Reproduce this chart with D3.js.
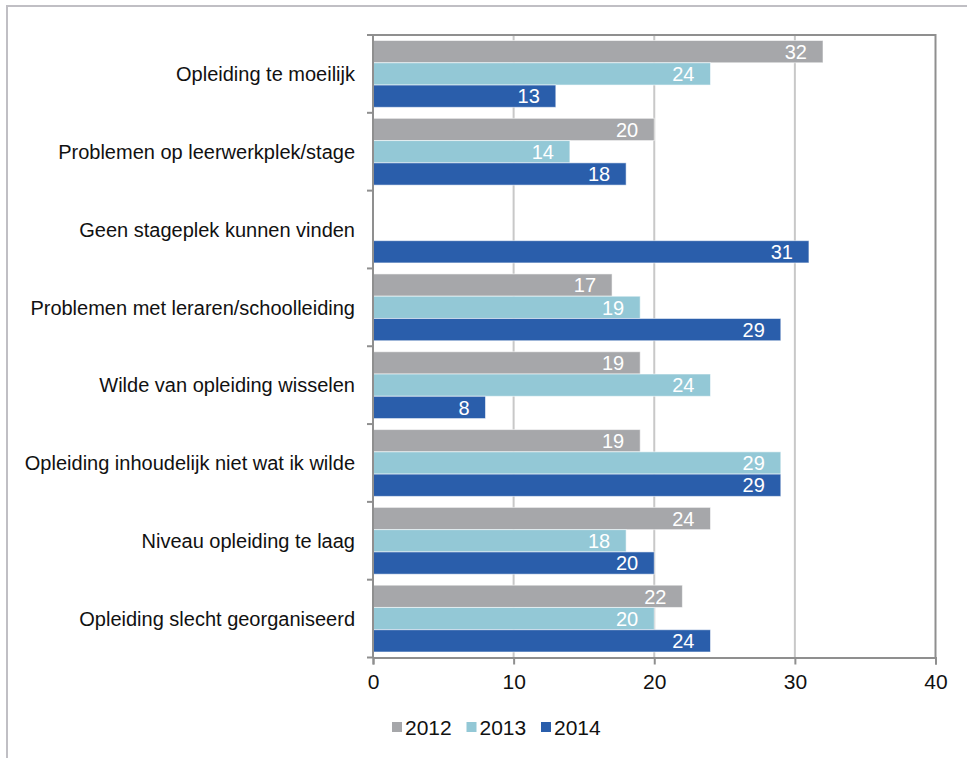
<!DOCTYPE html>
<html>
<head>
<meta charset="utf-8">
<script src="https://cdn.jsdelivr.net/npm/d3@7"></script>
<style>
    body { margin: 0; background: #fff; }
    svg text { font-family: "Liberation Sans", Arial, sans-serif; }
</style>
</head>
<body>
<div id="chart"></div>
<script>
const categories = [
    "Opleiding te moeilijk",
    "Problemen op leerwerkplek/stage",
    "Geen stageplek kunnen vinden",
    "Problemen met leraren/schoolleiding",
    "Wilde van opleiding wisselen",
    "Opleiding inhoudelijk niet wat ik wilde",
    "Niveau opleiding te laag",
    "Opleiding slecht georganiseerd"
];
const years = ["2012", "2013", "2014"];
const values2012 = [32, 20, null, 17, 19, 19, 24, 22];
const values2013 = [24, 14, null, 19, 24, 29, 18, 20];
const values2014 = [13, 18, 31, 29, 8, 29, 20, 24];
const xTicks = [0, 10, 20, 30, 40];
const colors = ["#a6a7aa", "#93c8d6", "#2a5eab"];

const width = 967, height = 758;
const plot = {left: 373, right: 935.5, top: 35, bottom: 657.5};

const svg = d3.select("#chart")
    .append("svg")
    .attr("width", width)
    .attr("height", height);

// outer chart frame
svg.append("rect")
    .attr("x", 7)
    .attr("y", 6)
    .attr("width", width + 20)
    .attr("height", height + 20)
    .attr("fill", "none")
    .attr("stroke", "#c0bfc4")
    .attr("stroke-width", 2);

const x = d3.scaleLinear()
    .domain([0, 40])
    .range([plot.left, plot.right]);

const y0 = d3.scaleBand()
    .domain(categories)
    .range([plot.top, plot.bottom]);

const y1 = d3.scaleBand()
    .domain(years)
    .range([5.5, y0.bandwidth() - 5.5]);

// gridlines
svg.append("g")
    .selectAll("line")
    .data(xTicks.filter(d => d > 0 && d < 40))
    .join("line")
    .attr("x1", d => x(d))
    .attr("x2", d => x(d))
    .attr("y1", plot.top)
    .attr("y2", plot.bottom)
    .attr("stroke", "#c8c8c8")
    .attr("stroke-width", 2);

// plot border (top + right)
svg.append("path")
    .attr("d", `M${plot.left - 6},${plot.top}H${plot.right}V${plot.bottom}`)
    .attr("fill", "none")
    .attr("stroke", "#8f8f8f")
    .attr("stroke-width", 2);

const series = [values2012, values2013, values2014];
const rows = [];
categories.forEach((c, i) => {
    years.forEach((yr, j) => {
        if (series[j][i] != null) {
            rows.push({cat: c, year: yr, value: series[j][i], color: colors[j]});
        }
    });
});

const bars = svg.append("g");
bars.selectAll("rect")
    .data(rows)
    .join("rect")
    .attr("x", x(0))
    .attr("y", d => y0(d.cat) + y1(d.year))
    .attr("width", d => x(d.value) - x(0))
    .attr("height", y1.bandwidth())
    .attr("fill", d => d.color)
    .attr("stroke", "rgba(255,255,255,0.55)")
    .attr("stroke-width", 1);

bars.selectAll("text")
    .data(rows)
    .join("text")
    .attr("x", d => x(d.value) - 16)
    .attr("y", d => y0(d.cat) + y1(d.year) + y1.bandwidth() / 2)
    .attr("dy", "0.36em")
    .attr("text-anchor", "end")
    .attr("fill", "#fff")
    .style("font-size", "20px")
    .text(d => d.value);

// y axis
const yAxis = svg.append("g");
yAxis.append("line")
    .attr("x1", plot.left).attr("x2", plot.left)
    .attr("y1", plot.top).attr("y2", plot.bottom)
    .attr("stroke", "#8f8f8f").attr("stroke-width", 2);
yAxis.selectAll(".tick")
    .data(categories.map(c => y0(c) + y0.bandwidth()).concat([plot.top]))
    .join("line")
    .attr("x1", plot.left - 6).attr("x2", plot.left)
    .attr("y1", d => d).attr("y2", d => d)
    .attr("stroke", "#8f8f8f").attr("stroke-width", 2);
yAxis.selectAll("text")
    .data(categories)
    .join("text")
    .attr("x", plot.left - 18)
    .attr("y", d => y0(d) + y0.bandwidth() / 2)
    .attr("dy", "0.36em")
    .attr("text-anchor", "end")
    .attr("fill", "#111")
    .style("font-size", "20px")
    .text(d => d);

// x axis
const xAxis = svg.append("g")
    .attr("transform", `translate(0,${plot.bottom})`)
    .call(d3.axisBottom(x).tickValues(xTicks).tickSize(7).tickPadding(10));
xAxis.select(".domain")
    .attr("stroke", "#8f8f8f").attr("stroke-width", 2);
xAxis.selectAll(".tick line")
    .attr("stroke", "#8f8f8f").attr("stroke-width", 2);
xAxis.selectAll(".tick text")
    .attr("fill", "#111")
    .style("font-size", "21px")
    .style("font-family", "Liberation Sans, Arial, sans-serif");

// legend
const legend = svg.append("g")
    .attr("transform", "translate(392,727)");
const item = legend.selectAll("g")
    .data(years)
    .join("g")
    .attr("transform", (d, i) => `translate(${i * 74.5},0)`);
item.append("rect")
    .attr("x", 0).attr("y", -5)
    .attr("width", 10).attr("height", 10)
    .attr("fill", (d, i) => colors[i]);
item.append("text")
    .attr("x", 13)
    .attr("dy", "0.36em")
    .attr("fill", "#111")
    .style("font-size", "21px")
    .text(d => d);
</script>
</body>
</html>
